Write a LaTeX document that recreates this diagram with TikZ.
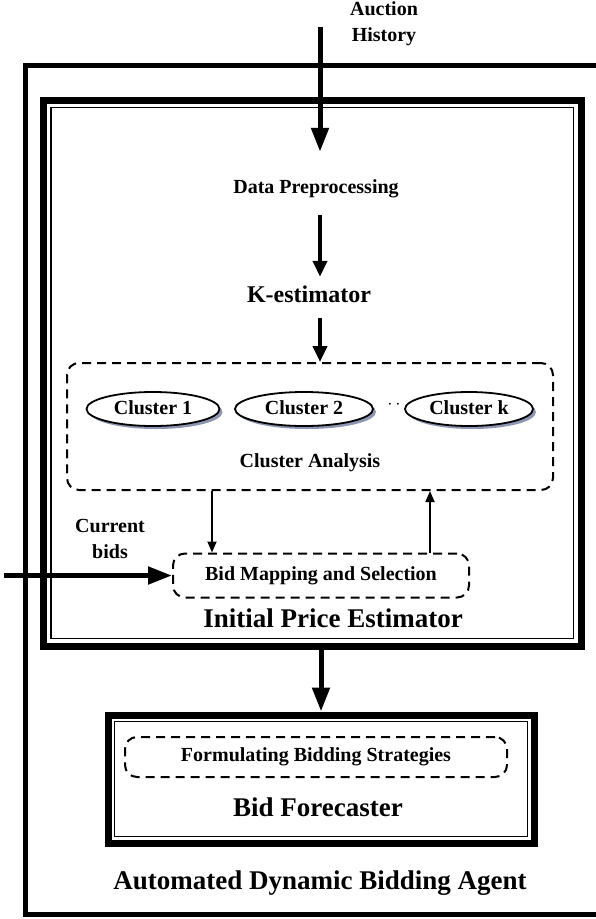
\documentclass[tikz,border=0pt]{standalone}
\usepackage{fontspec}
\setmainfont{Liberation Serif}
\usepackage{tikz}
\usetikzlibrary{arrows.meta, shapes.geometric, shadows}
\definecolor{shadowblue}{RGB}{140,150,178}

\begin{document}
\begin{tikzpicture}[x=1pt, y=-1pt,
frame/.style={rectangle, draw=black, line width=7pt, inner sep=0pt,
outer sep=0pt},
%
thinline/.style={draw=black, line width=1.5pt},
%
group/.style={rectangle, rounded corners=12pt, draw=black, line width=2pt,
dash pattern=on 9pt off 6pt, inner sep=0pt, align=center,
font=\fontsize{20}{24}\selectfont\bfseries},
%
cluster/.style={ellipse, draw=black, line width=1.8pt, fill=white,
minimum height=34pt, inner sep=0pt,
drop shadow={shadow xshift=3pt, shadow yshift=-3pt, fill=shadowblue, opacity=1}},
%
word/.style={font=\fontsize{20}{24}\selectfont\bfseries, align=center,
inner sep=0pt, text height=14pt, text depth=4pt},
%
lines/.style={font=\fontsize{20}{26}\selectfont\bfseries, align=center,
inner sep=0pt},
%
heading/.style={font=\fontsize{27}{30}\selectfont\bfseries, inner sep=0pt},
%
bigarrow/.style={line width=5pt, -{Triangle[length=24pt, width=17pt]}},
midarrow/.style={line width=4pt, -{Triangle[length=16pt, width=14pt]}},
thinarrow/.style={line width=1.8pt, -{Triangle[length=11pt, width=9pt]}}]

\useasboundingbox (0,0) rectangle (595,919);

\begin{scope}
  %%%%%%%%%%%%%%%%%%%%%%%%%%%%%%
  \node [frame, line width=5pt, minimum width=614.5pt, minimum height=849pt]
  (agent) at (332.75,490) {};
  \node [heading] (agenttitle) at (320,883) {Automated Dynamic Bidding Agent};
  %%%%%%%%%%%%%%%%%%%%%%%%%%%%%%
  \node [frame, minimum width=537.5pt, minimum height=546pt] (ipe) at (312.25,373) {};
  \draw [thinline] ([shift={(7.5,7.5)}]ipe.north west) rectangle
  ([shift={(-7.5,-7.5)}]ipe.south east);
  \node [heading] (ipetitle) at (333,618) {Initial Price Estimator};
  %%%%%%%%%%%%%%%%%%%%%%%%%%%%%%
  \node [frame, minimum width=426pt, minimum height=128pt] (bf) at (321,779) {};
  \draw [thinline] ([shift={(6.5,6.5)}]bf.north west) rectangle
  ([shift={(-6.5,-6.5)}]bf.south east);
  \node [heading] (bftitle) at (318,807) {Bid Forecaster};
\end{scope}

\begin{scope}
  \node [lines] (history) at (384,24) {Auction\\History};
  \coordinate (auctionin) at (320,27);
  \node [word] (preproc) at (316,188) {Data Preprocessing};
  \node [word, font=\fontsize{24}{28}\selectfont\bfseries, text height=17pt,
  text depth=5pt] (kest) at (309,296) {K-estimator};
  %%%%%%%%%%%%%%%%%%%%%%%%%%%%%%
  \node [group, minimum width=486pt, minimum height=127pt] (analysis) at (310,426.5) {};
  \node [cluster, minimum width=133pt] (clusterA) at (153,409) {};
  \node [word] at (clusterA) {Cluster 1};
  \node [cluster, minimum width=138pt] (clusterB) at (304,409) {};
  \node [word] at (clusterB) {Cluster 2};
  \node [word, font=\fontsize{16}{20}\selectfont] (dots) at (394,404)
  {\textperiodcentered\,\textperiodcentered};
  \node [cluster, minimum width=128pt] (clusterK) at (469,409) {};
  \node [word] at (clusterK) {Cluster k};
  \node [word] (analysistitle) at (310,462) {Cluster Analysis};
  %%%%%%%%%%%%%%%%%%%%%%%%%%%%%%
  \node [lines] (current) at (110,539) {Current\\bids};
  \coordinate (bidsin) at (4,575.5);
  \node [group, minimum width=296pt, minimum height=44pt] (bidmap) at (321,575.5)
  {Bid Mapping and Selection};
  %%%%%%%%%%%%%%%%%%%%%%%%%%%%%%
  \node [group, minimum width=382pt, minimum height=40pt] (strategies) at (316,757)
  {Formulating Bidding Strategies};
\end{scope}

\begin{scope}
  \draw [bigarrow] (auctionin) -- (auctionin |- preproc.north)
  [shorten >=27pt];
  \draw [midarrow, shorten <=18pt, shorten >=8pt]
  (auctionin |- preproc.south) -- (auctionin |- kest.north);
  \draw [midarrow, shorten <=11pt] (auctionin |- kest.south) -- (auctionin |- analysis.north);
  %%%%%%%%%%%%%%%%%%%%%%%%%%%%%%
  \draw [thinarrow] ([xshift=40pt]bidmap.north west |- analysis.south)
  -- ([xshift=40pt]bidmap.north west);
  \draw [thinarrow] ([xshift=-40pt]bidmap.north east)
  -- ([xshift=-40pt]bidmap.north east |- analysis.south);
  \draw [bigarrow] (bidsin) -- (bidsin -| bidmap.west);
  %%%%%%%%%%%%%%%%%%%%%%%%%%%%%%
  \draw [bigarrow, shorten <=3.5pt, shorten >=3.5pt] (bf.north |- ipe.south) -- (bf.north);
\end{scope}

\end{tikzpicture}
\end{document}
